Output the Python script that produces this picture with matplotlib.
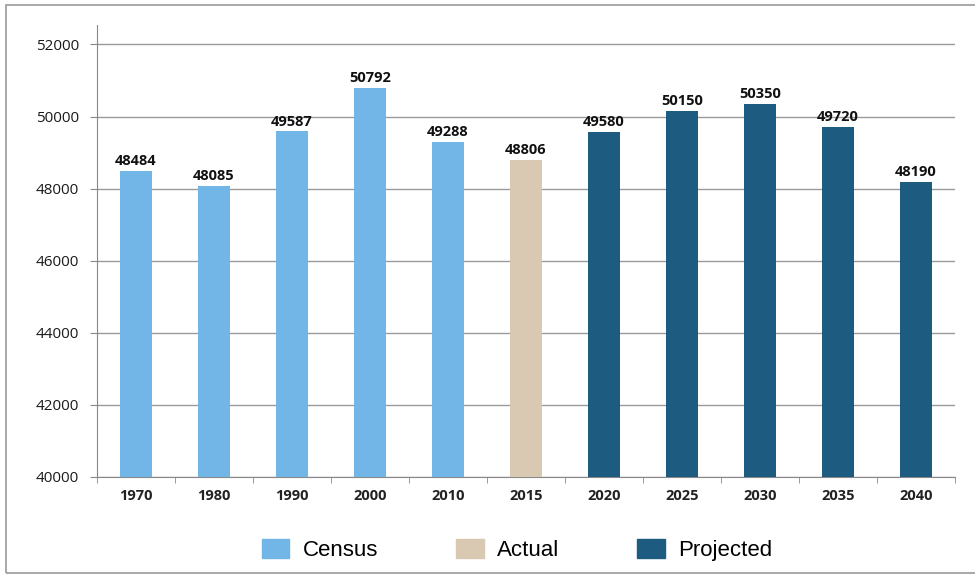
import matplotlib.pyplot as plt
from matplotlib.patches import Rectangle, Patch
import numpy as np

# population by year
years = ["1970", "1980", "1990", "2000", "2010", "2015",
         "2020", "2025", "2030", "2035", "2040"]
population = [48484, 48085, 49587, 50792, 49288, 48806,
              49580, 50150, 50350, 49720, 48190]
series = ["Census", "Census", "Census", "Census", "Census", "Actual",
          "Projected", "Projected", "Projected", "Projected", "Projected"]

colors = {"Census": "#72b6e8", "Actual": "#d9c9b2", "Projected": "#1d5b80"}

fig = plt.figure(figsize=(9.75, 5.79), dpi=100)
ax = fig.add_axes([97 / 975, 102 / 579, 858 / 975, 452 / 579])

x = np.arange(len(years))
bar_colors = [colors[s] for s in series]
ax.bar(x, population, width=0.41, color=bar_colors, zorder=3)

for xi, v in zip(x, population):
    ax.annotate(str(v), (xi, v), xytext=(0, 2), textcoords="offset points",
                ha="center", va="bottom", fontsize=10.5, fontweight="bold",
                family="Open Sans", color="#111111")

ax.set_xlim(-0.5, len(years) - 0.5)
ax.set_ylim(40000, 52540)
ax.set_yticks(range(40000, 52001, 2000))
ax.set_yticklabels([str(t) for t in range(40000, 52001, 2000)],
                   fontsize=11, family="Open Sans", color="#1a1a1a")
ax.set_xticks(x)
ax.set_xticklabels(years, fontsize=10.5, fontweight="bold", family="Open Sans",
                   color="#222222")
ax.set_xticks(np.arange(-0.5, len(years), 1.0), minor=True)
ax.tick_params(axis="x", which="major", length=0, pad=9)
ax.tick_params(axis="x", which="minor", length=4, color="#888888")
ax.tick_params(axis="y", length=5, color="#888888", pad=8)

ax.grid(axis="y", color="#9a9a9a", linewidth=1.0, zorder=0)
for side in ["top", "right"]:
    ax.spines[side].set_visible(False)
ax.spines["left"].set_color("#888888")
ax.spines["bottom"].set_color("#888888")

handles = [Patch(color=colors[k]) for k in ["Census", "Actual", "Projected"]]
fig.legend(handles, ["Census", "Actual", "Projected"], loc="center",
           bbox_to_anchor=(517 / 975, 1 - 550 / 579), ncol=3, frameon=False,
           prop={"family": "Liberation Sans", "size": 16},
           handlelength=1.25, handleheight=0.95, columnspacing=3.5,
           handletextpad=0.6)

# outer frame
fig.patches.append(Rectangle((6 / 975, 6 / 579), 1.0, 1 - 11 / 579,
                             transform=fig.transFigure, fill=False,
                             edgecolor="#999999", linewidth=1.2))

fig.savefig("out.png", dpi=100)
